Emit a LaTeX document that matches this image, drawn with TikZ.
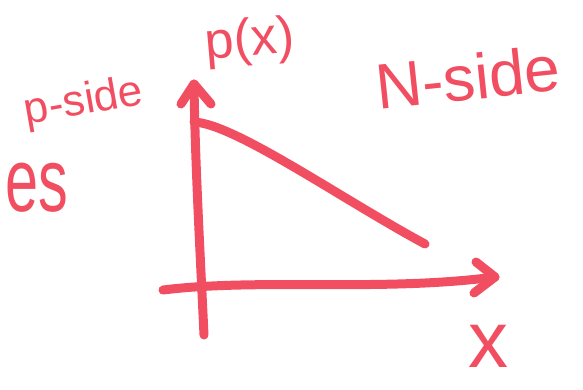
\documentclass[tikz,border=0pt]{standalone}
\usepackage{fontspec}
\setmainfont{Liberation Sans}
\definecolor{ink}{RGB}{241,78,98}
\tikzset{
  pen/.style={draw=ink, line width=9pt, line cap=round, line join=round},
  lbl/.style={text=ink, inner sep=0pt},
}
\begin{document}
\begin{tikzpicture}[x=1pt,y=-1pt]
\useasboundingbox (0,0) rectangle (583,389);
\clip (0,0) rectangle (583,389);
% axes
\coordinate (ybot) at (204,335);
\coordinate (ytop) at (194,84);
\coordinate (xleft) at (163,290);
\coordinate (xright) at (495,277);
\draw[pen] (ybot) .. controls (200,250) and (195,160) .. (ytop);
\draw[pen] (181,104) -- (ytop) -- (211,104);
\draw[pen] (xleft) .. controls (260,278) and (380,292) .. (xright);
\draw[pen] (476,262) -- (xright) -- (474,293);
% curve
\coordinate (c0) at (194,122);
\coordinate (c1) at (425,244);
\draw[pen] (c0) .. controls (235,124) and (340,198) .. (c1);
% labels
\node[lbl, font=\fontsize{52}{52}\selectfont, rotate=5] (px) at (250,42) {p(x)};
\node[lbl, font=\fontsize{44}{44}\selectfont, rotate=10] (pside) at (84,103) {p-side};
\node[lbl, font=\fontsize{64}{64}\selectfont, rotate=6] (nside) at (468,77) {N-side};
\node[lbl, font=\fontsize{80}{80}\selectfont] (xl) at (488,346) {x};
\node[lbl, font=\fontsize{90}{90}\selectfont, anchor=east] (es) at (68,188) {\scalebox{0.66}[1]{es}};
\end{tikzpicture}
\end{document}
